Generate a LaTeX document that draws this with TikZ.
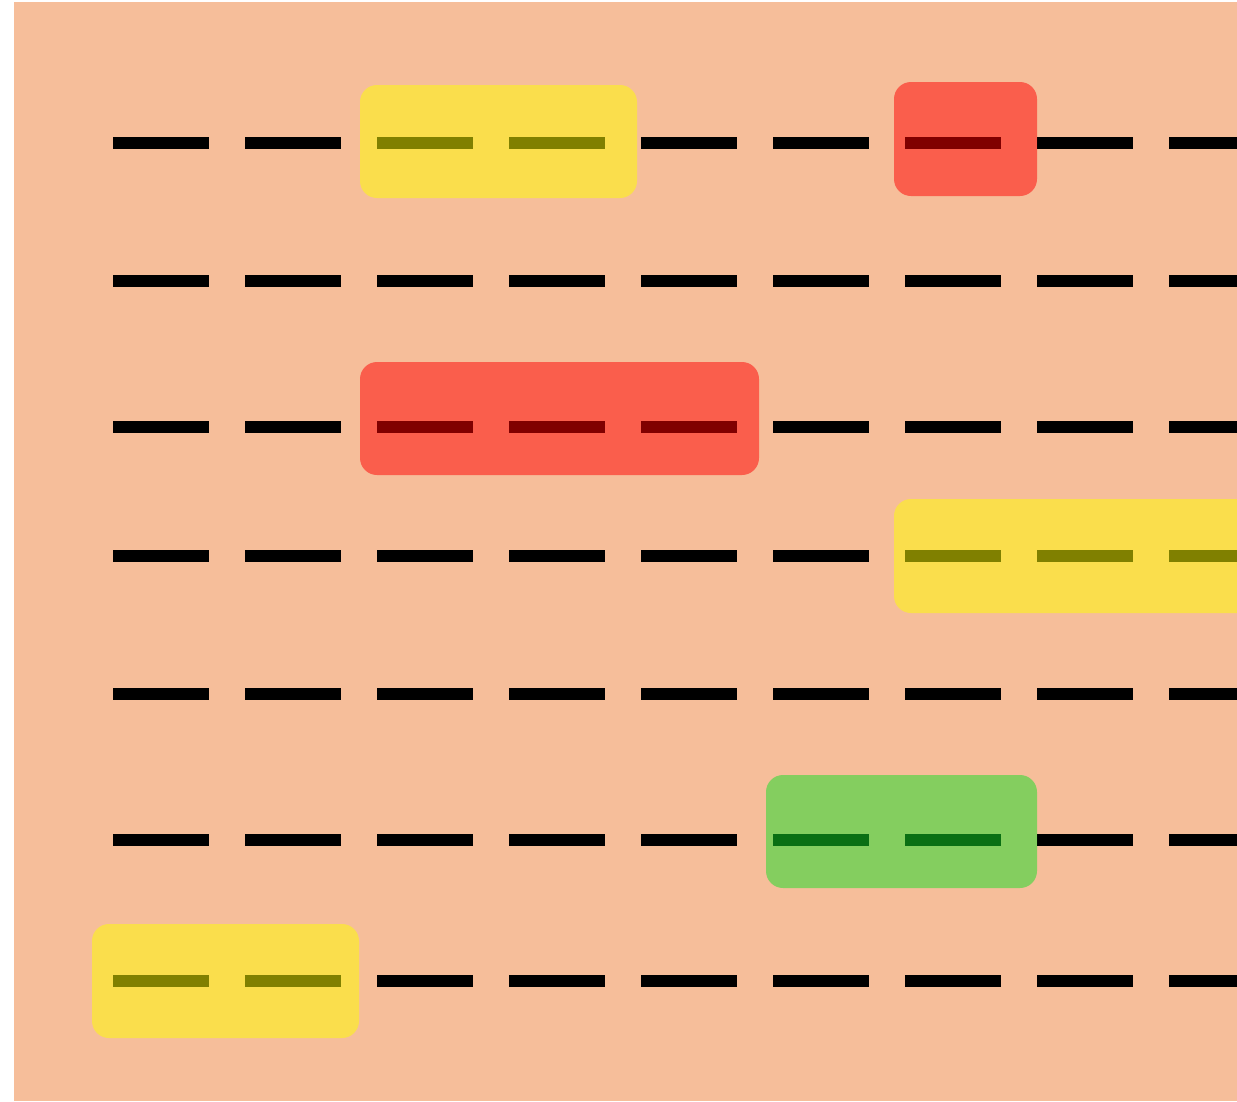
\documentclass[tikz,border=0pt]{standalone}
\usepackage{tikz}
\usetikzlibrary{calc}
\usepackage{xcolor}
\definecolor{mPeach}{HTML}{F6BE9A}
\definecolor{mYellow}{HTML}{FFFF00}
\definecolor{mRed}{HTML}{FF0000}
\definecolor{mGreen}{RGB}{20,222,38}
\definecolor{mInk}{HTML}{000000}

\begin{document}
\begin{tikzpicture}[x=1pt, y=-1pt,
  dashbar/.style={fill=mInk},
  hlbox/.style={fill=#1, opacity=0.5, rounded corners=17pt}]
  \useasboundingbox (0,0) rectangle (1237,1101);
  \clip (0,0) rectangle (1237,1101);
  % the sheet
  \fill[mPeach] (14,2) rectangle (1237,1101);
  % rows of bars
  \foreach \yy in {143,281,427,556,694,840,981}
    \foreach \k in {0,...,8}
      \fill[dashbar] ({113+132*\k},{\yy-6}) rectangle ({209+132*\k},{\yy+6});
  % highlighted runs
  \fill[hlbox=mYellow] (360,85) rectangle (637,198);
  \fill[hlbox=mRed]    (894,82) rectangle (1037,196);
  \fill[hlbox=mRed]    (360,362) rectangle (759,475);
  \fill[hlbox=mYellow] (894,499) rectangle (1290,613);
  \fill[hlbox=mGreen]  (766,775) rectangle (1037,888);
  \fill[hlbox=mYellow] (92,924) rectangle (359,1038);
\end{tikzpicture}
\end{document}
